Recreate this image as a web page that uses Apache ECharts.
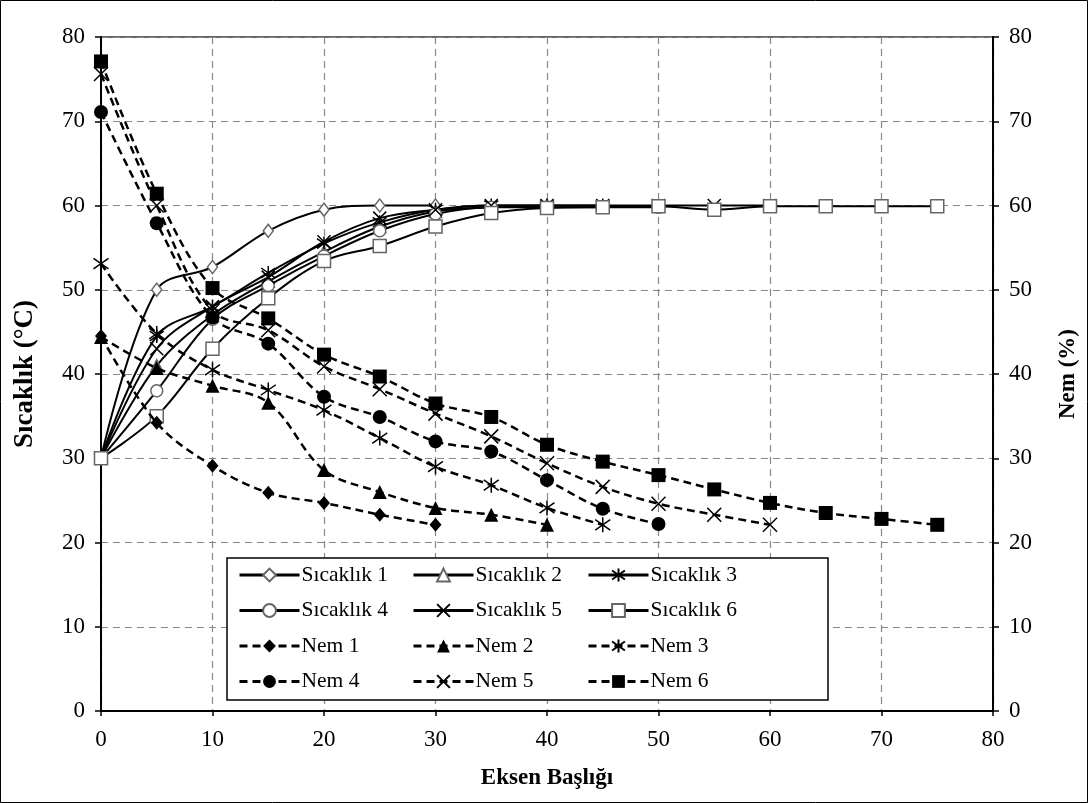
<!DOCTYPE html>
<html>
<head>
<meta charset="utf-8">
<script src="https://cdn.jsdelivr.net/npm/echarts@6/dist/echarts.min.js"></script>
<style>
html,body{margin:0;padding:0;background:#fff;}
#chart{width:1088px;height:803px;}
</style>
</head>
<body>
<div id="chart"></div>
<script>
// ---- data ----
const xTicks = [0, 10, 20, 30, 40, 50, 60, 70, 80];
const yTicks = [0, 10, 20, 30, 40, 50, 60, 70, 80];

const s1X = [0, 5, 10, 15, 20, 25, 30];
const s1Y = [30, 50, 52.7, 57, 59.5, 60, 60];
const s2X = [0, 5, 10, 15, 20, 25, 30, 35, 40];
const s2Y = [30, 41, 47, 51, 54.5, 57.5, 59.3, 59.8, 60];
const s3X = [0, 5, 10, 15, 20, 25, 30, 35, 40, 45];
const s3Y = [30, 44.5, 48, 52, 55.5, 58, 59.5, 60, 60, 60];
const s4X = [0, 5, 10, 15, 20, 25, 30, 35, 40, 45, 50];
const s4Y = [30, 38, 46.5, 50.5, 54, 57, 59, 59.8, 59.8, 59.8, 59.8];
const s5X = [0, 5, 10, 15, 20, 25, 30, 35, 40, 45, 50, 55, 60];
const s5Y = [30, 43, 48, 51.5, 55.7, 58.5, 59.5, 60, 60, 60, 60, 60, 60];
const s6X = [0, 5, 10, 15, 20, 25, 30, 35, 40, 45, 50, 55, 60, 65, 70, 75];
const s6Y = [30, 35, 43, 49, 53.4, 55.2, 57.5, 59.1, 59.7, 59.8, 59.9, 59.5, 59.9, 59.9, 59.9, 59.9];

const n1X = [0, 5, 10, 15, 20, 25, 30];
const n1Y = [44.5, 34.2, 29.1, 25.9, 24.7, 23.3, 22.1];
const n2X = [0, 5, 10, 15, 20, 25, 30, 35, 40];
const n2Y = [44.4, 40.7, 38.6, 36.6, 28.6, 26, 24.1, 23.3, 22.1];
const n3X = [0, 5, 10, 15, 20, 25, 30, 35, 40, 45];
const n3Y = [53.1, 44.8, 40.5, 38.1, 35.7, 32.4, 29, 26.8, 24.1, 22.1];
const n4X = [0, 5, 10, 15, 20, 25, 30, 35, 40, 45, 50];
const n4Y = [71.1, 57.9, 46.7, 43.6, 37.3, 34.9, 32, 30.8, 27.4, 24, 22.2];
const n5X = [0, 5, 10, 15, 20, 25, 30, 35, 40, 45, 50, 55, 60];
const n5Y = [75.6, 60, 47.5, 45.2, 40.9, 38.2, 35.3, 32.6, 29.4, 26.6, 24.6, 23.3, 22.1];
const n6X = [0, 5, 10, 15, 20, 25, 30, 35, 40, 45, 50, 55, 60, 65, 70, 75];
const n6Y = [77.1, 61.4, 50.2, 46.6, 42.3, 39.7, 36.5, 34.9, 31.6, 29.6, 28, 26.3, 24.7, 23.5, 22.8, 22.1];

const tempNames = ['Sıcaklık 1', 'Sıcaklık 2', 'Sıcaklık 3', 'Sıcaklık 4', 'Sıcaklık 5', 'Sıcaklık 6'];
const nemNames = ['Nem 1', 'Nem 2', 'Nem 3', 'Nem 4', 'Nem 5', 'Nem 6'];
const xTitle = 'Eksen Başlığı';
const yLeftTitle = 'Sıcaklık (°C)';
const yRightTitle = 'Nem (%)';

// ---- build ----
const pair = (xs, ys) => xs.map((x, i) => [x, ys[i]]);
const FONT = 'Liberation Serif';
const XPATH = 'path://M0,0L10,10M10,0L0,10';
const STARPATH = 'path://M5,0L5,10M0,1.5L10,8.5M10,1.5L0,8.5';

const tempData = [pair(s1X, s1Y), pair(s2X, s2Y), pair(s3X, s3Y), pair(s4X, s4Y), pair(s5X, s5Y), pair(s6X, s6Y)];
const nemData = [pair(n1X, n1Y), pair(n2X, n2Y), pair(n3X, n3Y), pair(n4X, n4Y), pair(n5X, n5Y), pair(n6X, n6Y)];

const symbols = ['diamond', 'triangle', STARPATH, 'circle', XPATH, 'rect'];
const tempSizes = [[10, 13], 12, 14, 12, 13, 13];
const nemSizes = [[12, 14], 14, 15, 14, 14, 14];
const lineOnly = [false, false, true, false, true, false];

const series = [];
tempNames.forEach((name, i) => {
  series.push({
    name: name, type: 'line', yAxisIndex: 0, data: tempData[i],
    smooth: 0.35, symbol: symbols[i], symbolSize: tempSizes[i], showSymbol: true,
    lineStyle: {color: '#000', width: 2, type: 'solid'},
    itemStyle: lineOnly[i] ? {color: '#000', borderColor: '#000', borderWidth: 1.5}
                           : {color: '#fff', borderColor: '#666', borderWidth: 1.5},
    z: 3, animation: false
  });
});
nemNames.forEach((name, i) => {
  series.push({
    name: name, type: 'line', yAxisIndex: 1, data: nemData[i],
    smooth: 0.35, symbol: symbols[i], symbolSize: nemSizes[i], showSymbol: true,
    lineStyle: {color: '#000', width: 2.5, type: [8, 5]},
    itemStyle: lineOnly[i] ? {color: '#000', borderColor: '#000', borderWidth: 1.5}
                           : {color: '#000', borderColor: '#000', borderWidth: 0},
    z: 4, animation: false
  });
});

const legendCols = [
  [tempNames[0], tempNames[3], nemNames[0], nemNames[3]],
  [tempNames[1], tempNames[4], nemNames[1], nemNames[4]],
  [tempNames[2], tempNames[5], nemNames[2], nemNames[5]]
];
const legendLefts = [238, 412, 587];
const legends = legendCols.map((cols, i) => ({
  data: cols, orient: 'vertical', left: legendLefts[i], top: 564,
  itemWidth: 60, itemHeight: 16, itemGap: 13.5, selectedMode: false,
  lineStyle: {width: 3},
  textStyle: {fontFamily: FONT, fontSize: 21.5, color: '#000', lineHeight: 22, padding: [0, 0, 0, -3]},
  padding: 0, z: 10
}));

const axisLabel = {fontFamily: FONT, fontSize: 23, color: '#000'};
const nameStyle = {fontFamily: FONT, fontSize: 23, fontWeight: 'bold', color: '#000'};
const split = {show: true, lineStyle: {color: '#888', type: [7, 5], width: 1.2}};

const option = {
  backgroundColor: '#fff',
  animation: false,
  grid: {left: 101, right: 95, top: 37, bottom: 92, show: true, borderColor: '#333', borderWidth: 1.5, backgroundColor: 'transparent'},
  legend: legends,
  graphic: [
    {type: 'rect', z: 8, shape: {x: 227, y: 558, width: 601, height: 142}, style: {fill: '#fff', stroke: '#000', lineWidth: 1.5}},
    {type: 'rect', z: 100, silent: true, shape: {x: 0.5, y: 0.5, width: 1087, height: 802}, style: {fill: 'none', stroke: '#000', lineWidth: 1}}
  ],
  xAxis: {
    type: 'value', min: xTicks[0], max: xTicks[xTicks.length - 1], interval: 10,
    name: xTitle, nameLocation: 'middle', nameGap: 56, nameTextStyle: nameStyle,
    axisLine: {show: true, lineStyle: {color: '#000', width: 2}},
    axisTick: {show: true, length: 5, lineStyle: {color: '#000', width: 1.5}},
    axisLabel: Object.assign({margin: 17, formatter: v => xTicks.includes(v) ? String(v) : ''}, axisLabel),
    splitLine: split
  },
  yAxis: [
    {
      type: 'value', min: yTicks[0], max: yTicks[yTicks.length - 1], interval: 10, position: 'left',
      name: yLeftTitle, nameLocation: 'middle', nameGap: 62, nameTextStyle: Object.assign({}, nameStyle, {fontSize: 27}),
      axisLine: {show: true, lineStyle: {color: '#000', width: 2}},
      axisTick: {show: true, length: 6, lineStyle: {color: '#000', width: 1.5}},
      axisLabel: Object.assign({margin: 16}, axisLabel),
      splitLine: split
    },
    {
      type: 'value', min: yTicks[0], max: yTicks[yTicks.length - 1], interval: 10, position: 'right',
      name: yRightTitle, nameLocation: 'middle', nameGap: 64, nameRotate: 90, nameTextStyle: nameStyle,
      axisLine: {show: true, lineStyle: {color: '#000', width: 2}},
      axisTick: {show: true, length: 6, lineStyle: {color: '#000', width: 1.5}},
      axisLabel: Object.assign({margin: 16}, axisLabel),
      splitLine: {show: false}
    }
  ],
  series: series
};

const chart = echarts.init(document.getElementById('chart'), null, {renderer: 'canvas'});
chart.setOption(option);
</script>
</body>
</html>
